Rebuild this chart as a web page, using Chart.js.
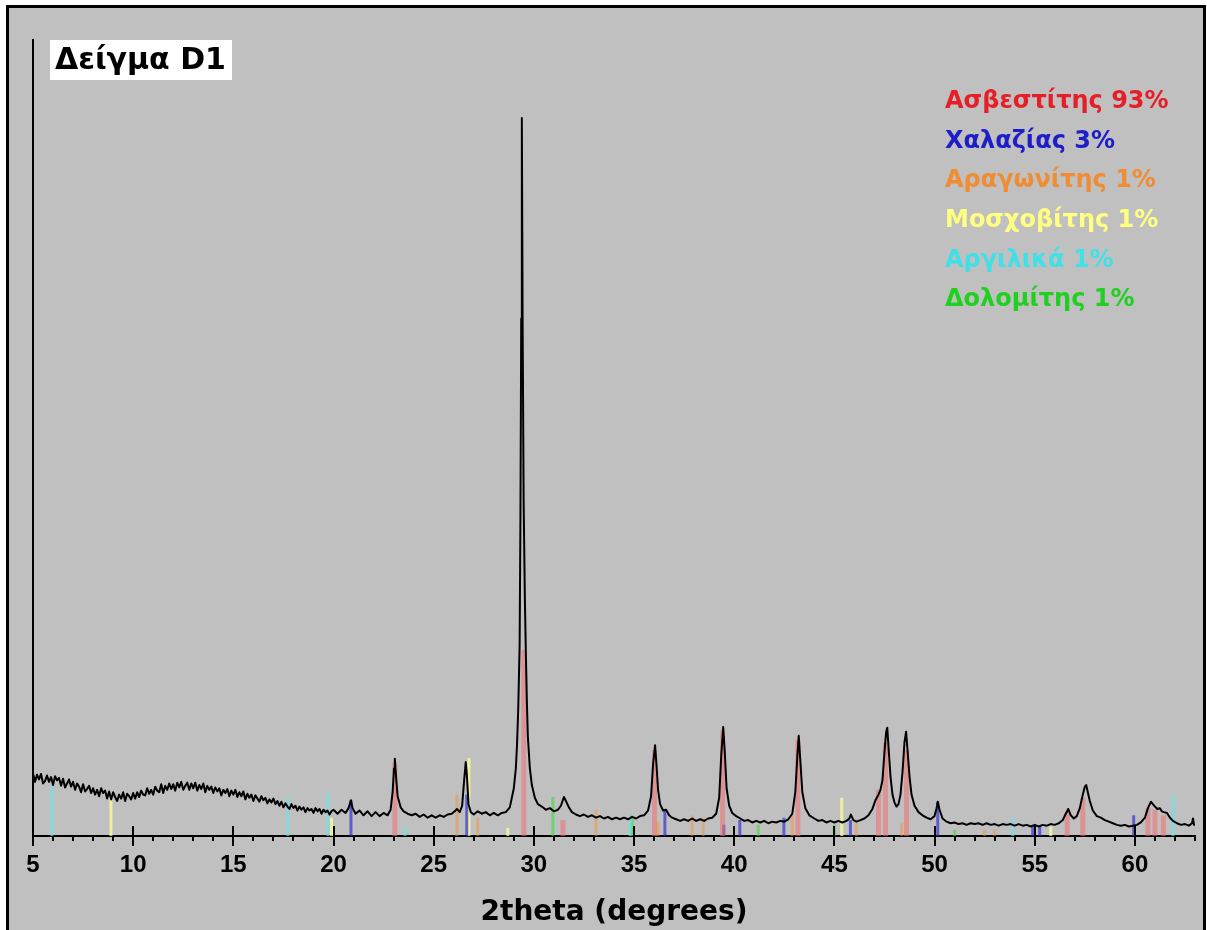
<!DOCTYPE html>
<html>
<head>
<meta charset="utf-8">
<script src="https://cdn.jsdelivr.net/npm/chart.js@4.4.1/dist/chart.umd.min.js"></script>
<style>
  html, body { margin: 0; padding: 0; background: #fff; }
  canvas { display: block; }
</style>
</head>
<body>
<canvas id="xrd" width="1207" height="930"></canvas>
<script>
// Sample label and x range
const sampleName = 'Δείγμα D1';
const axisTitle = '2theta (degrees)';
const xMin = 5;
const xMax = 63;

const pattern = [
  [5.0,79],[5.1,68],[5.2,77],[5.3,71],[5.4,78],[5.5,66],[5.6,69],[5.7,76],[5.8,68],[5.9,74],
  [6.0,64],[6.1,75],[6.2,70],[6.3,73],[6.4,63],[6.5,72],[6.6,61],[6.7,66],[6.8,71],[6.9,62],
  [7.0,68],[7.1,58],[7.2,66],[7.3,62],[7.4,55],[7.5,65],[7.6,56],[7.7,59],[7.8,63],[7.9,54],
  [8.0,60],[8.1,52],[8.2,58],[8.3,50],[8.4,60],[8.5,54],[8.6,57],[8.7,47],[8.8,56],[8.9,46],
  [9.0,55],[9.1,49],[9.2,44],[9.3,52],[9.4,47],[9.5,55],[9.6,44],[9.7,53],[9.8,50],[9.9,46],
  [10.0,54],[10.1,47],[10.2,55],[10.3,49],[10.4,57],[10.5,52],[10.6,51],[10.7,60],[10.8,53],[10.9,58],
  [11.0,52],[11.1,62],[11.2,57],[11.3,55],[11.4,65],[11.5,54],[11.6,63],[11.7,58],[11.8,66],[11.9,59],
  [12.0,65],[12.1,57],[12.2,67],[12.3,61],[12.4,68],[12.5,58],[12.6,63],[12.7,67],[12.8,58],[12.9,66],
  [13.0,60],[13.1,67],[13.2,57],[13.3,64],[13.4,59],[13.5,66],[13.6,55],[13.7,63],[13.8,58],[13.9,62],
  [14.0,54],[14.1,61],[14.2,56],[14.3,60],[14.4,51],[14.5,58],[14.6,54],[14.7,59],[14.8,50],[14.9,57],
  [15.0,52],[15.1,58],[15.2,49],[15.3,55],[15.4,50],[15.5,56],[15.6,46],[15.7,53],[15.8,48],[15.9,52],
  [16.0,44],[16.1,51],[16.2,47],[16.3,43],[16.4,50],[16.5,45],[16.6,48],[16.7,41],[16.8,46],[16.9,42],
  [17.0,47],[17.1,40],[17.2,44],[17.3,38],[17.4,43],[17.5,36],[17.6,41],[17.7,37],[17.8,34],[17.9,40],
  [18.0,35],[18.1,38],[18.2,32],[18.3,37],[18.4,33],[18.5,36],[18.6,30],[18.7,35],[18.8,32],[18.9,34],
  [19.0,29],[19.1,35],[19.2,31],[19.3,34],[19.4,28],[19.5,33],[19.6,30],[19.7,32],[19.8,27],[19.9,31],
  [20.0,33],[20.2,28],[20.4,33],[20.6,29],[20.75,35],
  [20.87,45],[20.95,35],[21.1,28],[21.3,32],[21.5,26],[21.7,31],[21.9,25],[22.1,30],[22.3,25],[22.5,29],
  [22.7,26],[22.85,33],[22.95,55],[23.02,85],[23.06,97],[23.12,75],[23.2,50],[23.35,36],[23.5,31],[23.7,28],
  [23.9,26],[24.1,28],[24.3,24],[24.5,27],[24.7,23],[24.9,26],[25.1,23],[25.3,26],[25.5,24],[25.7,27],
  [25.9,28],[26.05,31],[26.16,34],[26.3,30],[26.42,38],[26.52,70],[26.6,93],[26.66,75],[26.74,40],[26.85,30],
  [27.0,27],[27.2,31],[27.4,28],[27.6,30],[27.8,26],[28.0,29],[28.2,26],[28.4,29],[28.6,30],[28.8,36],
  [29.0,60],[29.1,85],[29.16,115],[29.22,160],[29.29,240],[29.33,400],[29.37,650],[29.4,902],[29.44,640],[29.49,420],
  [29.55,300],[29.6,230],[29.65,170],[29.7,125],[29.8,85],[29.9,64],[30.05,48],[30.2,40],[30.4,37],[30.6,33],
  [30.8,35],[31.0,31],
  [31.2,33],[31.35,38],[31.5,49],[31.6,44],[31.75,36],[31.9,30],[32.1,27],[32.3,25],[32.5,27],[32.7,24],
  [32.9,26],[33.1,23],[33.3,25],[33.5,22],[33.7,24],[33.9,21],[34.1,23],[34.3,21],[34.5,23],[34.7,21],
  [34.9,24],[35.1,22],[35.3,25],[35.5,26],[35.7,32],[35.85,50],[35.95,90],[36.05,114],[36.12,90],[36.2,58],
  [36.3,40],[36.45,32],[36.6,33],[36.75,26],[36.9,23],[37.1,21],[37.3,19],[37.5,21],[37.7,19],[37.9,22],
  [38.1,19],[38.3,21],[38.5,19],[38.7,22],[38.9,23],[39.1,28],[39.25,48],[39.35,100],[39.45,137],[39.53,105],
  [39.62,60],[39.75,38],[39.9,29],[40.1,25],[40.3,22],[40.5,19],[40.7,20],[40.9,17],[41.1,19],[41.3,17],
  [41.5,19],[41.7,16],[41.9,18],[42.1,17],[42.3,19],[42.5,18],[42.7,21],[42.9,28],[43.05,55],[43.15,100],
  [43.22,126],[43.3,95],[43.4,55],[43.55,35],[43.75,26],[44.0,22],[44.2,19],[44.4,20],[44.6,17],[44.8,19],
  [45.0,17],[45.2,19],[45.4,17],[45.6,19],[45.75,22],[45.82,27],[45.95,20],[46.1,18],[46.3,20],[46.5,22],
  [46.7,26],[46.9,34],[47.05,45],[47.2,52],[47.3,58],[47.4,70],[47.5,105],[47.58,130],[47.64,136],[47.72,105],
  [47.8,75],[47.9,52],[48.0,42],[48.1,37],[48.2,40],[48.3,52],[48.4,80],[48.5,118],[48.58,131],[48.66,105],
  [48.75,75],[48.85,52],[49.0,38],[49.2,30],[49.4,26],[49.6,23],[49.8,21],[50.0,25],[50.1,35],[50.16,43],
  [50.25,33],[50.4,22],[50.6,18],[50.8,16],[51.0,17],[51.2,15],[51.4,16],[51.6,14],[51.8,16],[52.0,15],
  [52.2,16],[52.4,14],[52.6,16],[52.8,14],[53.0,15],[53.2,13],[53.4,15],[53.6,14],[53.8,15],[54.0,13],
  [54.2,15],[54.4,13],[54.6,14],[54.8,12],[55.0,14],[55.2,12],[55.4,14],[55.6,13],[55.8,15],[56.0,14],
  [56.2,16],[56.4,20],[56.55,28],[56.67,34],[56.8,26],[56.95,22],[57.1,25],[57.25,35],[57.4,52],[57.5,62],
  [57.57,64],[57.65,55],[57.75,44],[57.9,32],[58.1,25],[58.3,23],[58.5,20],[58.7,18],[58.9,16],[59.1,14],
  [59.3,13],[59.5,14],[59.7,12],[59.9,13],[60.1,14],[60.3,17],[60.5,23],[60.65,35],[60.8,43],[60.9,40],
  [61.0,37],[61.12,34],[61.24,35],[61.35,31],[61.45,30],[61.6,29],[61.75,23],[61.9,19],[62.1,16],[62.3,14],
  [62.5,15],[62.7,13],[62.85,16],[62.9,22],[62.95,14],[63.0,15]
];

// Phases (legend text) and their reference line colours
const phaseNames = ['Ασβεστίτης 93%', 'Χαλαζίας 3%', 'Αραγωνίτης 1%', 'Μοσχοβίτης 1%', 'Αργιλικά 1%', 'Δολομίτης 1%'];
const phaseTextColors = ['#e61e28', '#1e1ec8', '#f08c32', '#ffff80', '#40e0e8', '#20d020'];
const phaseStickColors = ['rgba(240,110,110,0.55)', 'rgba(40,40,210,0.65)', 'rgba(240,150,60,0.5)',
                          'rgba(255,255,150,0.75)', 'rgba(100,230,235,0.65)', 'rgba(60,220,60,0.6)'];

// Reference stick positions (2theta) and heights per phase
const calcitePos = [23.06, 29.5, 31.45, 36.02, 39.42, 43.18, 47.2, 47.55, 48.6, 56.62, 57.4, 60.65, 61.0, 61.42];
const calciteHgt = [92, 234, 20, 108, 133, 121, 58, 117, 108, 30, 48, 35, 33, 26];
const quartzPos = [20.87, 26.65, 36.54, 39.48, 40.28, 42.48, 45.8, 50.16, 54.9, 55.25, 59.94];
const quartzHgt = [45, 52, 33, 14, 20, 23, 20, 43, 13, 13, 26];
const aragonitePos = [26.16, 27.2, 33.1, 36.2, 37.9, 38.45, 42.9, 46.1, 48.36, 52.5, 53.0];
const aragoniteHgt = [52, 23, 33, 18, 26, 23, 26, 16, 16, 8, 8];
const muscovitePos = [8.89, 19.9, 26.76, 28.7, 45.37, 55.8];
const muscoviteHgt = [48, 23, 98, 10, 48, 12];
const clayPos = [5.95, 17.72, 19.72, 23.56, 34.8, 53.9, 61.9];
const clayHgt = [64, 48, 54, 12, 26, 23, 52];
const dolomitePos = [30.95, 34.9, 41.2, 45.0, 51.0];
const dolomiteHgt = [49, 26, 14, 14, 8];

const stickPos = [calcitePos, quartzPos, aragonitePos, muscovitePos, clayPos, dolomitePos];
const stickHgt = [calciteHgt, quartzHgt, aragoniteHgt, muscoviteHgt, clayHgt, dolomiteHgt];
const stickWidths = [5, 3, 3, 3, 3, 3];

// Build a broken line: one vertical segment per stick
function sticks(pos, hgt) {
    const pts = [];
    pos.forEach((x, i) => {
        pts.push({ x: x, y: 0 }, { x: x, y: hgt[i] }, { x: x, y: null });
    });
    return pts;
}

const datasets = [{
    label: 'pattern',
    data: pattern.map(p => ({ x: p[0], y: p[1] })),
    borderColor: '#000',
    borderWidth: 2,
    borderJoinStyle: 'round',
    pointRadius: 0,
    tension: 0
}];
stickPos.forEach((pos, i) => {
    datasets.push({
        label: phaseNames[i],
        data: sticks(pos, stickHgt[i]),
        borderColor: phaseStickColors[i],
        borderWidth: stickWidths[i],
        borderCapStyle: 'butt',
        pointRadius: 0,
        spanGaps: false
    });
});

// Frame, grey panel, title box, legend text and axis tick marks
const decor = {
    id: 'decor',
    beforeDraw(chart) {
        const ctx = chart.ctx;
        ctx.save();
        ctx.fillStyle = '#fff';
        ctx.fillRect(0, 0, chart.width, chart.height);
        ctx.fillStyle = '#c0c0c0';
        ctx.fillRect(8, 7, 1196, 940);
        ctx.strokeStyle = '#000';
        ctx.lineWidth = 3;
        ctx.strokeRect(7.5, 6.5, 1197, 940);
        ctx.restore();
    },
    afterDraw(chart) {
        const ctx = chart.ctx;
        const x = chart.scales.x;
        const bottom = chart.chartArea.bottom;
        ctx.save();
        // tick marks
        ctx.strokeStyle = '#000';
        ctx.lineWidth = 2;
        for (let v = xMin; v <= xMax; v++) {
            const px = Math.round(x.getPixelForValue(v));
            ctx.beginPath();
            if (v % 5 === 0) {
                ctx.moveTo(px, bottom - 10);
                ctx.lineTo(px, bottom + 10);
            } else {
                ctx.moveTo(px, bottom);
                ctx.lineTo(px, bottom + 5);
            }
            ctx.stroke();
        }
        // sample title in white box
        ctx.fillStyle = '#fff';
        ctx.fillRect(50, 40, 182, 40);
        ctx.fillStyle = '#000';
        ctx.font = 'bold 30px "DejaVu Sans"';
        ctx.textBaseline = 'middle';
        ctx.textAlign = 'left';
        ctx.fillText(sampleName, 55, 61);
        // phase list
        ctx.font = 'bold 24px "DejaVu Sans"';
        phaseNames.forEach((name, i) => {
            ctx.fillStyle = phaseTextColors[i];
            ctx.fillText(name, 945, 102 + i * 39.6);
        });
        ctx.restore();
    }
};

new Chart(document.getElementById('xrd'), {
    type: 'line',
    data: { datasets: datasets },
    options: {
        responsive: false,
        animation: false,
        events: [],
        devicePixelRatio: 1,
        layout: { padding: { left: 33, top: 40, right: 12, bottom: 0 } },
        plugins: {
            legend: { display: false },
            tooltip: { enabled: false }
        },
        scales: {
            x: {
                type: 'linear',
                min: xMin,
                max: xMax,
                afterFit: s => { s.height = 94; },
                grid: { display: false, drawTicks: false },
                border: { display: true, color: '#000', width: 2 },
                ticks: {
                    stepSize: 1,
                    autoSkip: false,
                    maxRotation: 0,
                    padding: 12,
                    color: '#000',
                    font: { family: '"Liberation Sans", Arial', size: 24, weight: 'bold', lineHeight: 1.45 },
                    callback: v => (v % 5 === 0 ? v : '')
                },
                title: {
                    display: true,
                    text: axisTitle,
                    color: '#000',
                    padding: 0,
                    font: { family: '"DejaVu Sans"', size: 28, weight: 'bold' }
                }
            },
            y: {
                min: 0,
                max: 1000,
                afterFit: s => { s.width = 0; },
                grid: { display: false, drawTicks: false },
                border: { display: true, color: '#000', width: 2 },
                ticks: { display: false }
            }
        }
    },
    plugins: [decor]
});
</script>
</body>
</html>
